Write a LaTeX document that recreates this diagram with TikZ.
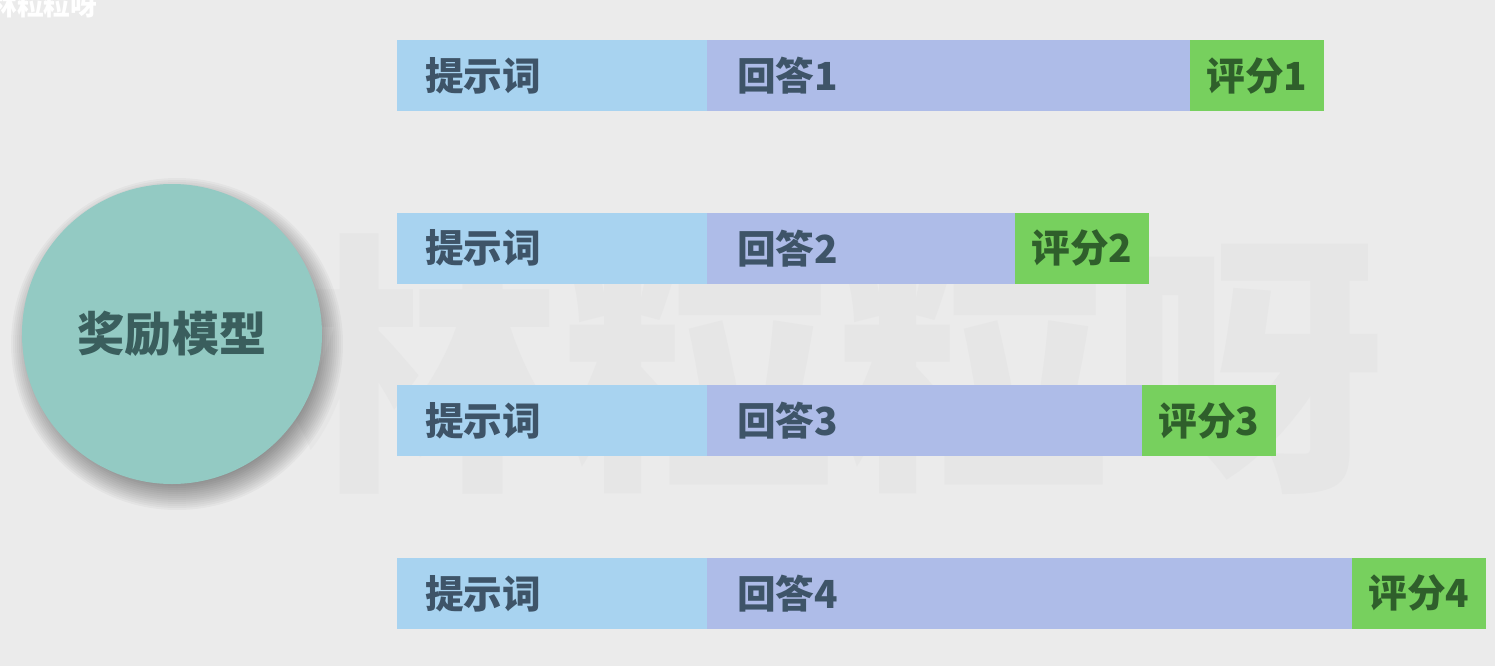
\documentclass[tikz,border=0pt]{standalone}
\usepackage{fontspec}
\newfontfamily\cjk{Noto Sans CJK SC}
\usetikzlibrary{positioning}
\definecolor{bg}{HTML}{EBEBEB}
\definecolor{wmgray}{HTML}{E6E6E6}
\definecolor{promptblue}{HTML}{A8D3F0}
\definecolor{answerblue}{HTML}{AEBCE8}
\definecolor{scoregreen}{HTML}{77D05E}
\definecolor{modelteal}{HTML}{93CAC3}
\definecolor{barink}{HTML}{3E5468}
\definecolor{scoreink}{HTML}{2F5F2B}
\definecolor{modelink}{HTML}{3A5E5D}
\tikzset{
	bar/.style={minimum height=3.55cm, inner ysep=0pt, outer sep=0pt,
		font=\cjk\bfseries\fontsize{55}{55}\selectfont},
	promptbox/.style={bar, fill=promptblue, text=barink, text width=12.7cm, inner xsep=1.4cm, align=left},
	answerbox/.style={bar, fill=answerblue, text=barink, text width=#1, inner xsep=1.5cm, align=left},
	scorebox/.style={bar, fill=scoregreen, text=scoreink, minimum width=6.7cm, inner xsep=0pt},
}
\begin{document}
\begin{tikzpicture}
	\useasboundingbox (0,0) rectangle (74.75,-33.3);
	\fill[bg] (0,0) rectangle (74.75,-33.3);
	\clip (0,0) rectangle (74.75,-33.3);
	% watermark
	\node[text=wmgray, font=\cjk\bfseries\fontsize{390}{390}\selectfont] (wm) at (41.8,-18.15) {林粒粒呀};
	\node[text=white, font=\cjk\bfseries\fontsize{38}{38}\selectfont] (tag) at (2.2,-0.25) {林粒粒呀};
	% reward model, soft shadow first
	\coordinate (rmc) at (8.6,-16.7);
	\foreach \r in {6.8,6.9,...,8.3}
	\fill[black,opacity=0.03] ([shift={(0.25,-0.5)}]rmc) circle (\r);
	\node[circle, fill=modelteal, minimum size=15cm, text=modelink,
	font=\cjk\bfseries\fontsize{67}{67}\selectfont] (rm) at (rmc) {奖励模型};
	% prompt / answer / score
	\foreach \i/\w in {1/21.15cm,2/12.4cm,3/18.75cm,4/29.25cm}
	{
	\node[promptbox, anchor=west] (p\i) at (19.85,{-3.775-8.633*(\i-1)}) {提示词};
	\node[answerbox=\w, right=0pt of p\i] (a\i) {回答\i};
	\node[scorebox, right=0pt of a\i] (s\i) {评分\i};
	}
\end{tikzpicture}
\end{document}
